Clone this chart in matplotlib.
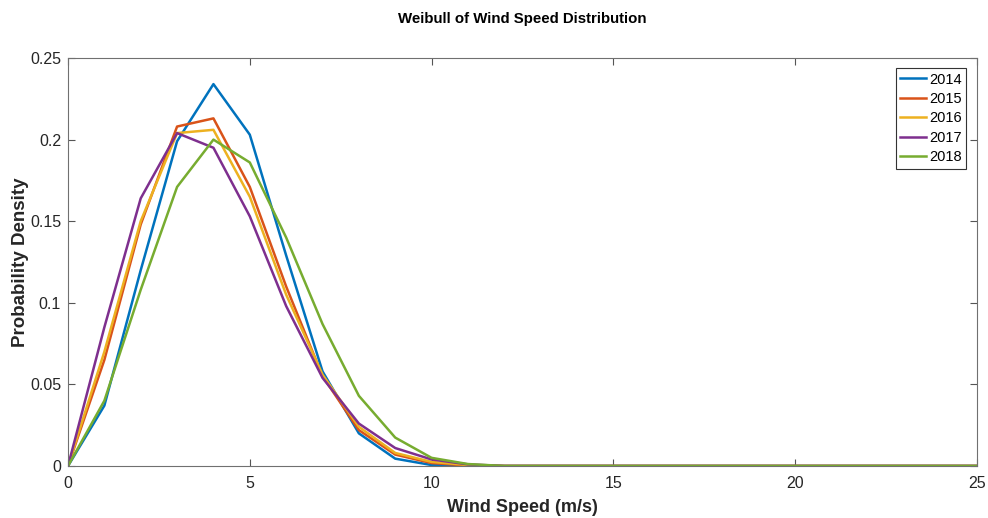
import matplotlib
matplotlib.use("Agg")
import matplotlib.pyplot as plt
import numpy as np

plt.rcParams['font.family'] = ['Liberation Sans', 'DejaVu Sans']

wind_speed = list(range(0, 26))
years = ['2014', '2015', '2016', '2017', '2018']
tail = [0.0] * 14
pdf_2014 = [0, 0.037, 0.120, 0.199, 0.234, 0.203, 0.129, 0.058, 0.020, 0.0045, 0.0006, 0.0] + tail
pdf_2015 = [0, 0.065, 0.148, 0.208, 0.213, 0.171, 0.110, 0.055, 0.022, 0.007, 0.0018, 0.0003] + tail
pdf_2016 = [0, 0.070, 0.150, 0.204, 0.206, 0.165, 0.105, 0.056, 0.024, 0.008, 0.0025, 0.0006] + tail
pdf_2017 = [0, 0.085, 0.164, 0.204, 0.195, 0.153, 0.098, 0.054, 0.026, 0.011, 0.004, 0.001] + tail
pdf_2018 = [0, 0.040, 0.108, 0.171, 0.200, 0.186, 0.140, 0.087, 0.043, 0.0174, 0.005, 0.0012] + tail
series = [pdf_2014, pdf_2015, pdf_2016, pdf_2017, pdf_2018]
colors = ['#0072BD', '#D95319', '#EDB120', '#7E2F8E', '#77AC30']

fig = plt.figure(figsize=(9.88, 5.18), dpi=100)
ax = fig.add_axes([68/988, 52/518, (977-68)/988, (466-58)/518])
for y, c, lab in zip(series, colors, years):
    ax.plot(wind_speed, y, color=c, lw=1.8, label=lab)

ax.set_xlim(0, 25)
ax.set_ylim(0, 0.25)
ax.set_xticks([0, 5, 10, 15, 20, 25])
ax.set_yticks([0, 0.05, 0.1, 0.15, 0.2, 0.25])
ax.set_yticklabels(['0', '0.05', '0.1', '0.15', '0.2', '0.25'])
ax.tick_params(direction='in', top=True, right=True, labelsize=11.5, labelcolor='#262626',
               color='#555555', length=5, width=0.8)
ax.tick_params(axis='x', pad=7)
ax.tick_params(axis='y', pad=5)
for s in ax.spines.values():
    s.set_color('#707070')
    s.set_linewidth(0.8)
ax.set_xlabel('Wind Speed (m/s)', fontsize=13, fontweight='bold', color='#262626', labelpad=6)
ax.set_ylabel('Probability Density', fontsize=13.5, fontweight='bold', color='#262626', labelpad=1)
ax.set_title('Weibull of Wind Speed Distribution', fontsize=10.8, fontweight='bold', color='black', pad=25)
leg = ax.legend(loc='upper right', fontsize=10.5, fancybox=False, framealpha=1,
                edgecolor='#333333', borderpad=0.3, labelspacing=0.37, handlelength=1.8,
                handletextpad=0.2, borderaxespad=0, bbox_to_anchor=(0.988, 0.975))
leg.get_frame().set_linewidth(0.8)
fig.savefig('out.png', dpi=100)
